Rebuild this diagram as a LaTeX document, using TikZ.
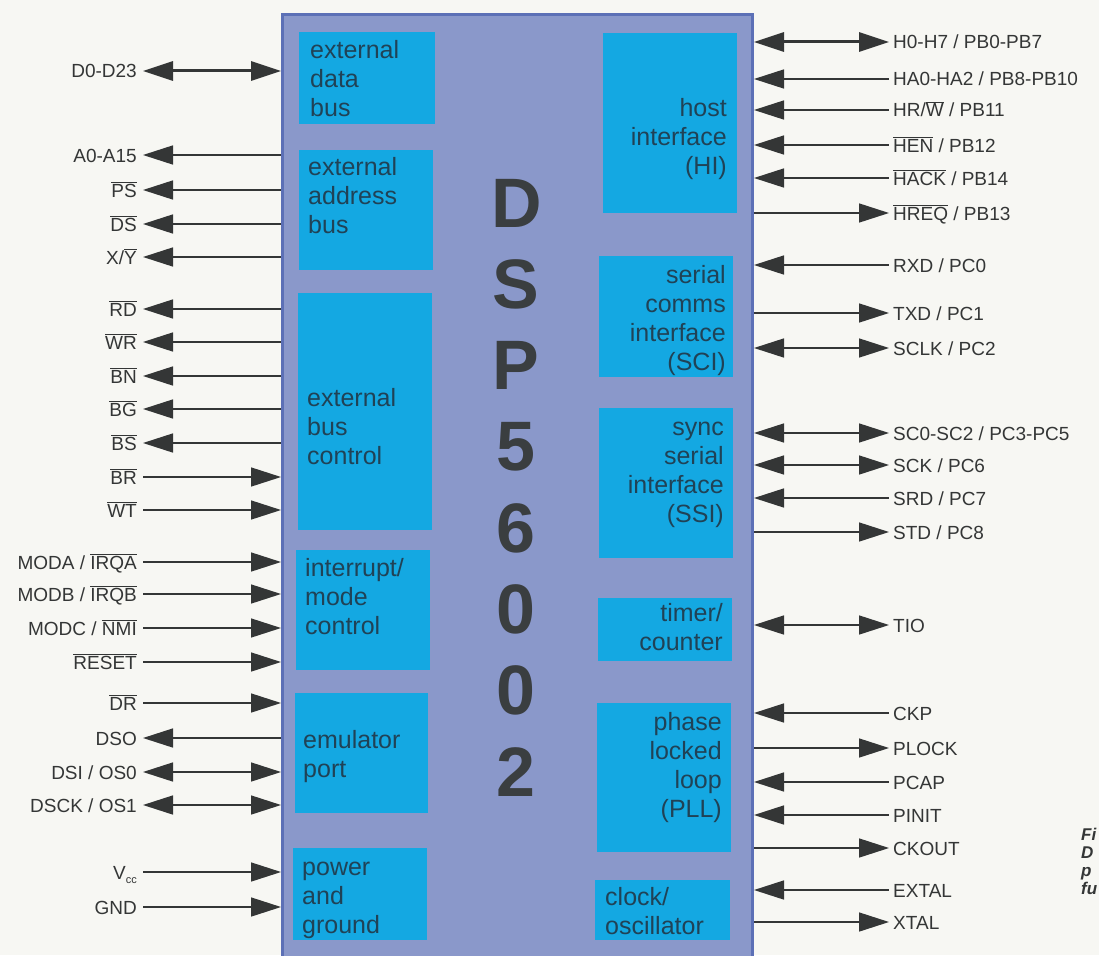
\documentclass[tikz,border=0pt]{standalone}
\usepackage{fontspec}
\setmainfont{Liberation Sans}
\usetikzlibrary{arrows.meta,calc}
\definecolor{bgcol}{RGB}{247,247,243}
\definecolor{chipfill}{RGB}{138,152,202}
\definecolor{chipedge}{RGB}{92,112,182}
\definecolor{blockfill}{RGB}{20,168,226}
\definecolor{blocktext}{RGB}{32,66,86}
\definecolor{bigtext}{RGB}{58,62,64}
\definecolor{wire}{RGB}{52,54,54}
\newcommand\barsig[1]{$\overline{\hbox{#1}}$}
\newcommand\lpin[4]{%
  \node[llab] (#1) at (137,#2) {#4};
  \draw[wirestyle,#3] ($(#1.east)+(6,0)$) -- (#1.east -| chip.west);}
\newcommand\rpin[4]{%
  \node[rlab] (#1) at (893,#2) {#4};
  \draw[wirestyle,#3] (#1.west -| chip.east) -- ($(#1.west)+(-4,0)$);}
\begin{document}
\begin{tikzpicture}[x=1pt,y=-1pt,
  >={Triangle[length=30pt,width=19pt]},
  pinlab/.style={font=\fontsize{19}{19}\selectfont, text=wire, inner sep=0pt, text height=14pt, text depth=0pt},
  llab/.style={pinlab, anchor=east},
  rlab/.style={pinlab, anchor=west},
  blk/.style={fill=blockfill, draw=none},
  btxt/.style={font=\fontsize{25}{29}\selectfont, text=blocktext, inner sep=0pt},
  btl/.style={btxt, align=left, anchor=north west},
  btr/.style={btxt, align=right, anchor=north east},
  bigl/.style={font=\fontsize{70}{70}\selectfont\bfseries, text=bigtext, inner sep=0pt},
  captxt/.style={font=\fontsize{17}{17}\selectfont\bfseries\itshape, text=wire, inner sep=0pt, anchor=west, text height=12pt, text depth=0pt},
  wirestyle/.style={draw=wire, line width=1.5pt},
  bus/.style={line width=3pt}]
\useasboundingbox (0,0) rectangle (1099,955);
\clip (0,0) rectangle (1099,955);
\fill[bgcol] (0,0) rectangle (1099,955);
% chip body
\node[draw=chipedge, fill=chipfill, line width=3pt, anchor=north west,
      minimum width=470pt, minimum height=970pt, inner sep=0pt] (chip) at (281,13) {};
% left blocks
\fill[blk] (299,32) rectangle (435,124);
\fill[blk] (299,150) rectangle (433,270);
\fill[blk] (298,293) rectangle (432,530);
\fill[blk] (296,550) rectangle (430,670);
\fill[blk] (295,693) rectangle (428,813);
\fill[blk] (293,848) rectangle (427,940);
% right blocks
\fill[blk] (603,33) rectangle (737,213);
\fill[blk] (599,256) rectangle (733,377);
\fill[blk] (599,408) rectangle (733,558);
\fill[blk] (598,598) rectangle (732,661);
\fill[blk] (597,703) rectangle (731,852);
\fill[blk] (595,880) rectangle (730,940);
% block texts
\node[btl] (tedb) at (310,38)  {\strut external\\data\\bus};
\node[btl] (teab) at (308,155) {\strut external\\address\\bus};
\node[btl] (tebc) at (307,386) {\strut external\\bus\\control};
\node[btl] (timc) at (305,556) {\strut interrupt/\\mode\\control};
\node[btl] (temu) at (303,728) {\strut emulator\\port};
\node[btl] (tpwr) at (302,855) {\strut power\\and\\ground};
\node[btr] (thi)  at (727,96)  {\strut host\\interface\\(HI)};
\node[btr] (tsci) at (726,263) {\strut serial\\comms\\interface\\(SCI)};
\node[btr] (tssi) at (724,415) {\strut sync\\serial\\interface\\(SSI)};
\node[btr] (ttmr) at (723,601) {\strut timer/\\counter};
\node[btr] (tpll) at (722,710) {\strut phase\\locked\\loop\\(PLL)};
\node[btl] (tclk) at (605,885) {\strut clock/\\oscillator};
% big title letters
\node[bigl] (L1) at (517,203) {D};
\node[bigl] (L2) at (516,284) {S};
\node[bigl] (L3) at (516,365) {P};
\node[bigl] (L4) at (516,447) {5};
\node[bigl] (L5) at (516,528) {6};
\node[bigl] (L6) at (516,609) {0};
\node[bigl] (L7) at (516,690) {0};
\node[bigl] (L8) at (516,772) {2};
% left pins
\lpin{pD}{71}{<->,bus}{D0-D23}
\lpin{pA}{155}{<-}{A0-A15}
\lpin{pPS}{190}{<-}{\barsig{PS}}
\lpin{pDS}{224}{<-}{\barsig{DS}}
\lpin{pXY}{257}{<-}{X/\barsig{Y}}
\lpin{pRD}{309}{<-}{\barsig{RD}}
\lpin{pWR}{342}{<-}{\barsig{WR}}
\lpin{pBN}{376}{<-}{\barsig{BN}}
\lpin{pBG}{409}{<-}{\barsig{BG}}
\lpin{pBS}{443}{<-}{\barsig{BS}}
\lpin{pBR}{477}{->}{\barsig{BR}}
\lpin{pWT}{510}{->}{\barsig{WT}}
\lpin{pMA}{562}{->}{MODA / \barsig{IRQA}}
\lpin{pMB}{594}{->}{MODB / \barsig{IRQB}}
\lpin{pMC}{628}{->}{MODC / \barsig{NMI}}
\lpin{pRS}{662}{->}{\barsig{RESET}}
\lpin{pDR}{703}{->}{\barsig{DR}}
\lpin{pDSO}{738}{<-}{DSO}
\lpin{pDSI}{772}{<->}{DSI / OS0}
\lpin{pDSCK}{805}{<->}{DSCK / OS1}
\lpin{pVCC}{872}{->}{V\raisebox{-4pt}{\fontsize{11}{11}\selectfont cc}}
\lpin{pGND}{907}{->}{GND}
% right pins
\rpin{pH}{42}{<->,bus}{H0-H7 / PB0-PB7}
\rpin{pHA}{79}{<-}{HA0-HA2 / PB8-PB10}
\rpin{pHR}{110}{<-}{HR/\barsig{W} / PB11}
\rpin{pHEN}{145}{<-}{\barsig{HEN} / PB12}
\rpin{pHACK}{178}{<-}{\barsig{HACK} / PB14}
\rpin{pHREQ}{213}{->}{\barsig{HREQ} / PB13}
\rpin{pRXD}{265}{<-}{RXD / PC0}
\rpin{pTXD}{313}{->}{TXD / PC1}
\rpin{pSCLK}{348}{<->}{SCLK / PC2}
\rpin{pSC}{433}{<->}{SC0-SC2 / PC3-PC5}
\rpin{pSCK}{465}{<->}{SCK / PC6}
\rpin{pSRD}{498}{<-}{SRD / PC7}
\rpin{pSTD}{532}{->}{STD / PC8}
\rpin{pTIO}{625}{<->}{TIO}
\rpin{pCKP}{713}{<-}{CKP}
\rpin{pPLOCK}{748}{->}{PLOCK}
\rpin{pPCAP}{782}{<-}{PCAP}
\rpin{pPINIT}{815}{<-}{PINIT}
\rpin{pCKOUT}{848}{->}{CKOUT}
\rpin{pEXTAL}{890}{<-}{EXTAL}
\rpin{pXTAL}{922}{->}{XTAL}
% clipped caption at the right edge
\node[captxt] (cap1) at (1081,834) {Fi};
\node[captxt] (cap2) at (1081,852) {D};
\node[captxt] (cap3) at (1081,870) {p};
\node[captxt] (cap4) at (1081,888) {fu};
\end{tikzpicture}
\end{document}
